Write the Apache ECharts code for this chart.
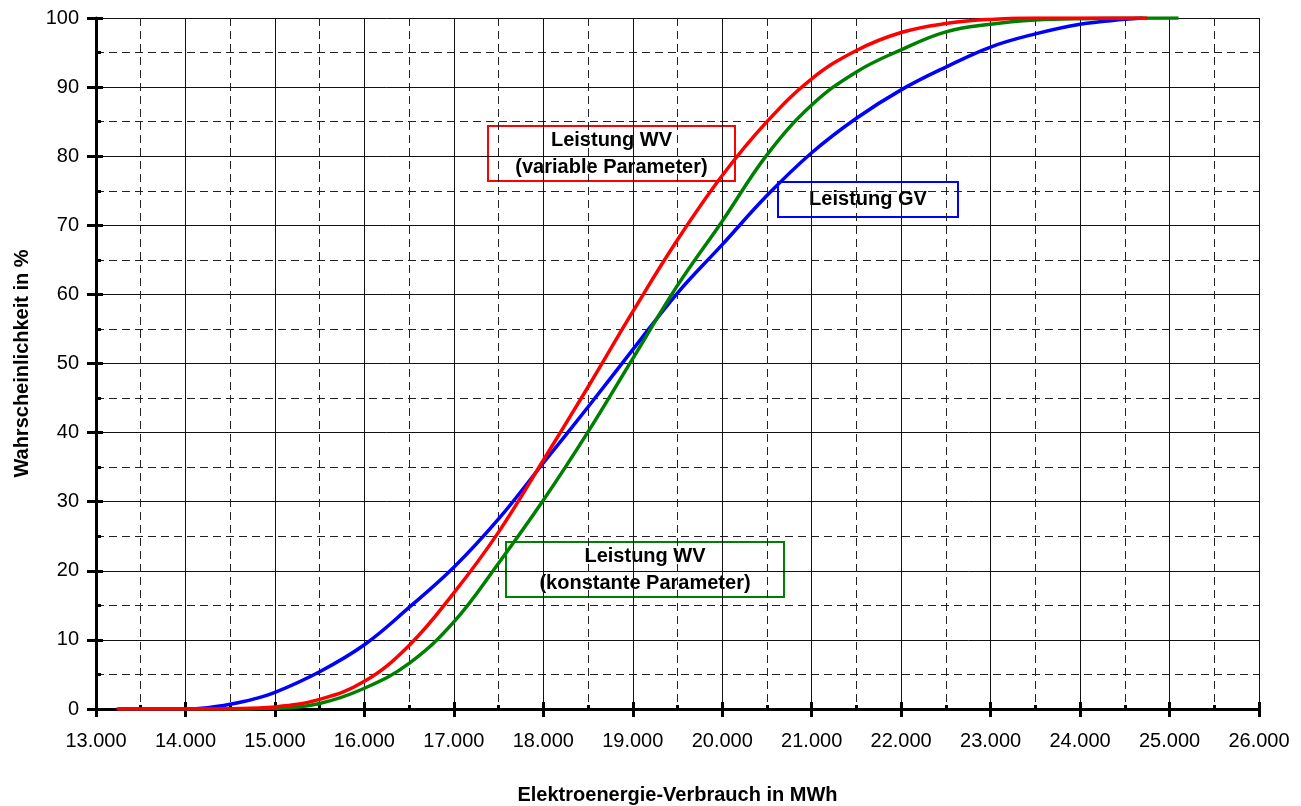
<!DOCTYPE html>
<html>
<head>
<meta charset="utf-8">
<script src="https://cdn.jsdelivr.net/npm/echarts@6/dist/echarts.min.js"></script>
<style>
html,body{margin:0;padding:0;background:#fff;}
#chart{width:1301px;height:806px;}
</style>
</head>
<body>
<div id="chart"></div>
<script>
// ---- data ----
const xTicks = [13000,14000,15000,16000,17000,18000,19000,20000,21000,22000,23000,24000,25000,26000];
const yTicks = [0,10,20,30,40,50,60,70,80,90,100];

// Leistung GV (blue)
const gvX = [13250,14000,14250,14500,14750,15000,15500,16000,16500,17000,17500,18000,18500,19000,19500,20000,20500,21000,21500,22000,22500,23000,23500,24000,24500,24700];
const gvY = [0,0,0.2,0.7,1.4,2.4,5.4,9.3,14.7,20.5,27.5,35.6,43.7,52.0,60.2,67.2,74.3,80.5,85.5,89.6,92.9,95.8,97.7,99.1,99.8,100];

// Leistung WV (konstante Parameter) (green)
const wvkX = [13250,14500,15000,15500,16000,16500,17000,17500,18000,18500,19000,19500,20000,20500,21000,21500,22000,22500,23000,23500,24000,25100];
const wvkY = [0,0,0.1,0.8,3.0,6.6,12.6,21.1,30.2,40.1,50.7,61.3,70.6,80.2,87.4,92.2,95.4,98.0,99.1,99.7,99.9,100];

// Leistung WV (variable Parameter) (red)
const wvvX = [13230,14000,14500,15000,15500,16000,16500,17000,17500,18000,18500,19000,19500,20000,20500,21000,21500,22000,22500,23000,23500,24750];
const wvvY = [0,0,0.05,0.3,1.4,4.0,9.2,16.8,25.6,36.0,46.6,57.5,67.9,77.2,85.0,91.2,95.3,97.9,99.2,99.8,100,100];

const xName = 'Elektroenergie-Verbrauch in MWh';
const yName = 'Wahrscheinlichkeit in %';
const labelWVV = ['Leistung WV', '(variable Parameter)'];
const labelGV = ['Leistung GV'];
const labelWVK = ['Leistung WV', '(konstante Parameter)'];

function pairs(xs, ys){ return xs.map((x,i)=>[x, ys[i]]); }
function fmtX(v){ return (v/1000).toFixed(3); }

const FONT = "'Liberation Sans', Arial, sans-serif";
const chart = echarts.init(document.getElementById('chart'), null, {renderer:'canvas'});

function box(x, y, w, h, color, lines){
  const lh = 27;
  const cy = y + h/2;
  const children = [{
    type:'rect', shape:{x:x, y:y, width:w, height:h},
    style:{fill:'#fff', stroke:color, lineWidth:2}
  }];
  lines.forEach((t,i)=>{
    children.push({
      type:'text',
      style:{
        text:t, x:x+w/2, y: cy + (i-(lines.length-1)/2)*lh,
        align:'center', verticalAlign:'middle',
        font:"bold 20px " + FONT, fill:'#000'
      }
    });
  });
  return {type:'group', z:100, children:children};
}

const xMin = xTicks[0], xMax = xTicks[xTicks.length-1];
const yMin = yTicks[0], yMax = yTicks[yTicks.length-1];

chart.setOption({
  animation:false,
  backgroundColor:'#fff',
  grid:{left:96, right:42, top:18, bottom:97, containLabel:false, outerBoundsMode:'none'},
  xAxis:[{
    type:'value', min:xMin, max:xMax, interval:1000,
    name:xName, nameLocation:'middle', nameGap:76,
    nameTextStyle:{fontFamily:FONT, fontWeight:'bold', fontSize:20, color:'#000'},
    axisLine:{show:true, onZero:false, lineStyle:{color:'#000', width:3}},
    axisTick:{show:true, inside:false, length:8, lineStyle:{color:'#000', width:3}},
    minorTick:{show:false, splitNumber:2},
    axisLabel:{formatter:fmtX, fontFamily:FONT, fontSize:20, color:'#000', margin:22},
    splitLine:{show:true, lineStyle:{color:'#111', width:1, type:'solid'}},
    minorSplitLine:{show:true, lineStyle:{color:'#222', width:1, type:[8,5]}}
  },{
    type:'value', min:xMin, max:xMax, interval:1000, position:'bottom',
    axisLine:{show:false},
    axisTick:{show:true, inside:true, length:7, lineStyle:{color:'#000', width:3}},
    minorTick:{show:true, splitNumber:2, length:4, lineStyle:{color:'#000', width:3}},
    axisLabel:{show:false}, splitLine:{show:false}
  }],
  yAxis:[{
    type:'value', min:yMin, max:yMax, interval:10,
    name:yName, nameLocation:'middle', nameGap:64,
    nameTextStyle:{fontFamily:FONT, fontWeight:'bold', fontSize:20, color:'#000'},
    axisLine:{show:true, onZero:false, lineStyle:{color:'#000', width:3}},
    axisTick:{show:true, inside:false, length:9, lineStyle:{color:'#000', width:3}},
    minorTick:{show:false, splitNumber:2},
    axisLabel:{fontFamily:FONT, fontSize:20, color:'#000', margin:17},
    splitLine:{show:true, lineStyle:{color:'#111', width:1, type:'solid'}},
    minorSplitLine:{show:true, lineStyle:{color:'#222', width:1, type:[8,5]}}
  },{
    type:'value', min:yMin, max:yMax, interval:10, position:'left',
    axisLine:{show:false},
    axisTick:{show:true, inside:true, length:7, lineStyle:{color:'#000', width:3}},
    minorTick:{show:true, splitNumber:2, length:5, lineStyle:{color:'#000', width:3}},
    axisLabel:{show:false}, splitLine:{show:false}
  }],
  series:[
    {name:'Leistung GV', type:'line', xAxisIndex:0, yAxisIndex:0, data:pairs(gvX,gvY),
     smooth:0.4, showSymbol:false, lineStyle:{color:'#0000ff', width:3.5}, z:3},
    {name:'Leistung WV (konstante Parameter)', type:'line', xAxisIndex:0, yAxisIndex:0, data:pairs(wvkX,wvkY),
     smooth:0.4, showSymbol:false, lineStyle:{color:'#008000', width:3.5}, z:4},
    {name:'Leistung WV (variable Parameter)', type:'line', xAxisIndex:0, yAxisIndex:0, data:pairs(wvvX,wvvY),
     smooth:0.4, showSymbol:false, lineStyle:{color:'#ff0000', width:3.5}, z:5}
  ],
  graphic:[
    box(488, 126, 247, 55, '#ff0000', labelWVV),
    box(778, 182, 180, 35, '#0000ff', labelGV),
    box(506, 542, 278, 55, '#008000', labelWVK)
  ]
});
</script>
</body>
</html>
